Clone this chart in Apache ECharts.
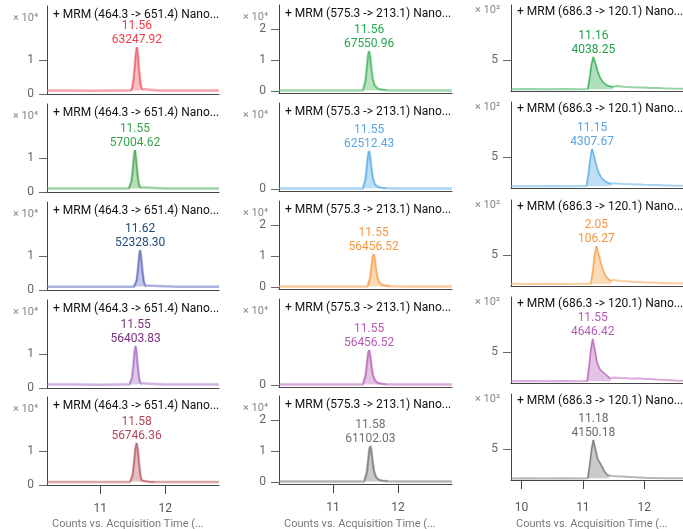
<!DOCTYPE html>
<html><head><meta charset="utf-8">
<script src="https://cdn.jsdelivr.net/npm/echarts@6/dist/echarts.min.js"></script>
<style>html,body{margin:0;padding:0;background:#fff}#c{width:683px;height:529px}</style>
</head><body><div id="c"></div>
<script>
// ---------------- data ----------------
const colTitles = ['+ MRM (464.3 -> 651.4) Nano...', '+ MRM (575.3 -> 213.1) Nano...', '+ MRM (686.3 -> 120.1) Nano...'];
const scaleLabels = ['\u00d7 10\u2074', '\u00d7 10\u2074', '\u00d7 10\u00b2'];
const xAxisName = 'Counts vs. Acquisition Time (...';
const xTickValues = [[11, 12], [11, 12], [10, 11, 12]];
const yTickValuesC1 = [0, 10000];
const yTickValuesC2Full = [0, 10000, 20000];
const yTickValuesC2Zero = [0];
const yTickValuesC3 = [500];

const peakRT = [
  ['11.56', '11.56', '11.16'],
  ['11.55', '11.55', '11.15'],
  ['11.62', '11.55', '2.05'],
  ['11.55', '11.55', '11.55'],
  ['11.58', '11.58', '11.18']
];
const peakArea = [
  ['63247.92', '67550.96', '4038.25'],
  ['57004.62', '62512.43', '4307.67'],
  ['52328.30', '56456.52', '106.27'],
  ['56403.83', '56456.52', '4646.42'],
  ['56746.36', '61102.03', '4150.18']
];

// traces [time, counts]
const r1c1 = [[10.18,1000],[10.5,1010],[10.9,990],[11.2,1000],[11.47,1000],[11.49,1600],[11.51,3600],[11.53,7600],[11.55,12200],[11.565,13800],[11.58,11600],[11.60,6800],[11.62,3000],[11.64,1500],[11.66,1050],[11.9,1000],[12.3,1010],[12.83,1000]];
const r2c1 = [[10.18,1000],[10.6,1000],[11.0,1010],[11.3,1000],[11.44,1000],[11.46,1400],[11.48,3000],[11.50,6200],[11.52,10600],[11.535,12350],[11.55,10300],[11.57,6000],[11.59,2800],[11.61,1400],[11.63,1050],[12.0,1000],[12.83,1000]];
const r3c1 = [[10.18,950],[10.6,960],[11.0,950],[11.3,950],[11.52,950],[11.54,1300],[11.56,2700],[11.58,5800],[11.60,10000],[11.615,11750],[11.63,9800],[11.65,5600],[11.67,2600],[11.69,1300],[11.71,1000],[12.2,950],[12.83,950]];
const r4c1 = [[10.18,1000],[10.6,1000],[11.0,990],[11.3,1000],[11.45,1000],[11.47,1400],[11.49,3100],[11.51,6500],[11.53,10800],[11.545,12350],[11.56,10500],[11.58,6200],[11.60,2900],[11.62,1400],[11.645,1050],[12.0,1000],[12.83,1000]];
const r5c1 = [[10.18,900],[10.6,900],[11.0,910],[11.3,900],[11.46,900],[11.48,1400],[11.50,3000],[11.52,6400],[11.54,10600],[11.56,12350],[11.58,10400],[11.60,6100],[11.62,2800],[11.64,1300],[11.67,980],[11.75,930],[11.84,910],[12.2,900],[12.83,900]];

const r1c2 = [[10.17,300],[10.6,310],[11.0,290],[11.3,300],[11.46,300],[11.48,900],[11.50,3500],[11.52,7500],[11.54,11800],[11.555,13000],[11.57,11500],[11.59,7500],[11.61,4200],[11.64,2000],[11.68,1000],[11.74,600],[11.83,420],[12.0,340],[12.4,310],[12.83,300]];
const r2c2 = [[10.17,300],[10.6,290],[11.0,310],[11.3,300],[11.46,300],[11.48,850],[11.50,3300],[11.52,7200],[11.54,11300],[11.555,12400],[11.57,11000],[11.59,7100],[11.61,4000],[11.64,1900],[11.68,950],[11.74,580],[11.82,400],[12.0,330],[12.4,300],[12.83,300]];
const r3c2 = [[10.17,300],[10.6,300],[11.0,290],[11.3,310],[11.53,300],[11.55,800],[11.57,3000],[11.59,6300],[11.61,9800],[11.625,10800],[11.64,9600],[11.66,6200],[11.68,3500],[11.71,1700],[11.75,850],[11.81,520],[11.89,380],[12.1,320],[12.5,300],[12.83,300]];
const r4c2 = [[10.17,300],[10.6,300],[11.0,300],[11.3,290],[11.46,300],[11.48,800],[11.50,3100],[11.52,6700],[11.54,10400],[11.555,11400],[11.57,10100],[11.59,6600],[11.61,3700],[11.64,1800],[11.68,900],[11.74,560],[11.82,400],[12.0,330],[12.4,300],[12.83,300]];
const r5c2 = [[10.17,300],[10.6,300],[11.0,300],[11.3,300],[11.48,300],[11.50,800],[11.52,3200],[11.54,6900],[11.56,10800],[11.575,11750],[11.59,10400],[11.61,6800],[11.63,3800],[11.66,1800],[11.70,900],[11.76,560],[11.84,400],[12.0,330],[12.4,300],[12.83,300]];

const r1c3 = [[9.83,30],[10.1,32],[10.4,28],[10.7,33],[10.95,30],[11.08,34],[11.11,200],[11.14,420],[11.17,550],[11.20,460],[11.24,320],[11.28,215],[11.33,140],[11.38,100],[11.43,75],[11.49,68],[11.52,98],[11.56,80],[11.62,72],[11.7,66],[11.8,62],[11.9,58],[12.0,55],[12.1,50],[12.2,47],[12.3,44],[12.45,40],[12.63,37]];
const r2c3 = [[9.83,30],[10.2,30],[10.5,33],[10.8,29],[10.98,31],[11.06,34],[11.09,220],[11.12,470],[11.15,630],[11.18,520],[11.22,360],[11.26,240],[11.31,155],[11.36,110],[11.41,82],[11.46,70],[11.49,95],[11.53,78],[11.6,70],[11.7,64],[11.8,60],[11.9,56],[12.0,52],[12.15,48],[12.3,44],[12.45,41],[12.63,38]];
const r3c3 = [[9.83,35],[10.1,33],[10.4,38],[10.7,34],[10.95,36],[11.13,38],[11.16,230],[11.19,480],[11.22,645],[11.25,540],[11.29,380],[11.33,250],[11.37,165],[11.41,115],[11.46,80],[11.5,100],[11.55,88],[11.62,82],[11.7,76],[11.8,70],[11.9,66],[12.0,60],[12.15,55],[12.3,50],[12.45,46],[12.63,42]];
const r4c3 = [[9.83,30],[10.1,32],[10.4,29],[10.7,33],[10.95,30],[11.07,33],[11.10,250],[11.13,540],[11.16,710],[11.19,560],[11.23,330],[11.28,220],[11.33,170],[11.38,130],[11.45,70],[11.49,88],[11.52,100],[11.56,85],[11.62,75],[11.7,80],[11.8,70],[11.9,75],[12.0,64],[12.1,66],[12.2,55],[12.35,50],[12.5,40],[12.63,36]];
const r5c3 = [[9.83,25],[10.1,27],[10.4,24],[10.7,28],[10.95,26],[11.08,28],[11.11,230],[11.14,480],[11.17,645],[11.20,520],[11.24,340],[11.30,240],[11.35,140],[11.40,80],[11.43,50],[11.48,64],[11.55,60],[11.65,55],[11.75,50],[11.85,45],[12.0,38],[12.2,33],[12.4,30],[12.63,28]];

const traces = [[r1c1, r1c2, r1c3], [r2c1, r2c2, r2c3], [r3c1, r3c2, r3c3], [r4c1, r4c2, r4c3], [r5c1, r5c2, r5c3]];
// integration windows [start, end]
const integWin = [
  [[11.47, 11.66], [11.46, 11.83], [11.08, 11.49]],
  [[11.44, 11.63], [11.46, 11.82], [11.06, 11.46]],
  [[11.52, 11.71], [11.53, 11.89], [11.13, 11.46]],
  [[11.45, 11.645], [11.46, 11.82], [11.07, 11.45]],
  [[11.46, 11.84], [11.48, 11.84], [11.08, 11.43]]
];
const lineColors = [
  ['#ef5f68', '#4cb866', '#3aae5c'],
  ['#4daa55', '#5eaee8', '#5eaee8'],
  ['#6670c4', '#f7a24f', '#f7a24f'],
  ['#a874c6', '#ba68ba', '#ba68ba'],
  ['#b9606a', '#7a7a7a', '#7a7a7a']
];
const labelColors = [
  ['#ec3c47', '#22a84d', '#22a04b'],
  ['#39a24b', '#58a6e2', '#58a6e2'],
  ['#1f4e7a', '#f5963f', '#f5963f'],
  ['#7a2f7e', '#b35cb5', '#b35cb5'],
  ['#b04656', '#707070', '#686868']
];

// ---------------- layout ----------------
const colLeft = [47, 279, 511];
const colWidth = [172, 173, 172];
const colBottoms = [[94, 192, 290, 388, 485], [93, 191, 289, 387, 484], [91, 188, 286, 383, 480]];
const colHeights = [88, 88, 86];
const xMin = [10.18, 10.17, 9.83], xMax = [12.83, 12.83, 12.63];
const yMin = [0, -500, 0], yMax = [25900, 27900, 1387];
const yUnit = [10000, 10000, 100];
const baseOrigin = [1000, 300, 30];
const FONT = 'Roboto';

const grids = [], xAxes = [], yAxes = [], series = [], graphics = [];
for (let r = 0; r < 5; r++) {
  for (let c = 0; c < 3; c++) {
    const idx = r * 3 + c;
    const bottom = colBottoms[c][r];
    const h = colHeights[c];
    const top = bottom - h;
    grids.push({ left: colLeft[c], width: colWidth[c], top: top, height: h, containLabel: false });
    const last = r === 4;
    xAxes.push({
      type: 'value', gridIndex: idx, min: xMin[c], max: xMax[c],
      axisLine: { show: true, onZero: false, lineStyle: { color: '#444', width: 1 } },
      axisTick: { show: last, customValues: xTickValues[c], length: 9, lineStyle: { color: '#444' } },
      axisLabel: { show: last, customValues: xTickValues[c], margin: c === 2 ? 22 : 18, color: '#555', fontSize: 12, fontFamily: FONT },
      splitLine: { show: false }
    });
    let yt = c === 0 ? yTickValuesC1 : (c === 1 ? ((r % 2 === 0) ? yTickValuesC2Full : yTickValuesC2Zero) : yTickValuesC3);
    yAxes.push({
      type: 'value', gridIndex: idx, min: yMin[c], max: yMax[c],
      axisLine: { show: true, onZero: false, lineStyle: { color: '#444', width: 1 } },
      axisTick: { show: true, customValues: yt, length: 8, lineStyle: { color: '#666' } },
      axisLabel: { show: true, customValues: yt, margin: 13, color: '#666', fontSize: 12, fontFamily: FONT,
        formatter: (v) => String(Math.round(v / yUnit[c])) },
      splitLine: { show: false }
    });
    const tr = traces[r][c];
    const win = integWin[r][c];
    const region = tr.filter(p => p[0] >= win[0] - 1e-9 && p[0] <= win[1] + 1e-9);
    let apex = tr[0];
    tr.forEach(p => { if (p[1] > apex[1]) apex = p; });
    const col = lineColors[r][c];
    series.push({
      type: 'line', xAxisIndex: idx, yAxisIndex: idx, data: tr, symbol: 'none', silent: true,
      lineStyle: { color: col, width: c === 2 ? 2 : 2.5, opacity: 0.55 }, z: 2, animation: false
    });
    series.push({
      type: 'line', xAxisIndex: idx, yAxisIndex: idx, data: region, symbol: 'none', silent: true,
      lineStyle: { color: col, width: 1, opacity: 0.9 },
      areaStyle: { color: col, opacity: 0.4, origin: baseOrigin[c] }, z: 3, animation: false,
      markPoint: {
        symbol: 'circle', symbolSize: 0, silent: true, animation: false,
        data: [{ coord: apex }],
        label: { show: true, position: 'top', distance: 0, formatter: peakRT[r][c] + '\n' + peakArea[r][c],
          color: labelColors[r][c], fontSize: 12, lineHeight: 14, fontFamily: FONT }
      }
    });
    graphics.push({ type: 'text', x: colLeft[c] + 6, y: bottom - 79, silent: true,
      style: { text: colTitles[c], fill: '#111', fontSize: 12, fontFamily: FONT, align: 'left', verticalAlign: 'middle' } });
    graphics.push({ type: 'text', x: colLeft[c] - (c === 0 ? 9 : 11), y: bottom - (c === 2 ? 81 : 76), silent: true,
      style: { text: scaleLabels[c], fill: '#888', fontSize: 11, fontFamily: FONT, align: 'right', verticalAlign: 'middle' } });
    if (last) {
      graphics.push({ type: 'text', x: colLeft[c] + 5, y: 524, silent: true,
        style: { text: xAxisName, fill: '#777', fontSize: 11, fontFamily: FONT, align: 'left', verticalAlign: 'middle' } });
    }
  }
}

const chart = echarts.init(document.getElementById('c'), null, { renderer: 'canvas' });
chart.setOption({
  animation: false,
  textStyle: { fontFamily: FONT },
  grid: grids, xAxis: xAxes, yAxis: yAxes, series: series, graphic: graphics
});
</script>
</body></html>
